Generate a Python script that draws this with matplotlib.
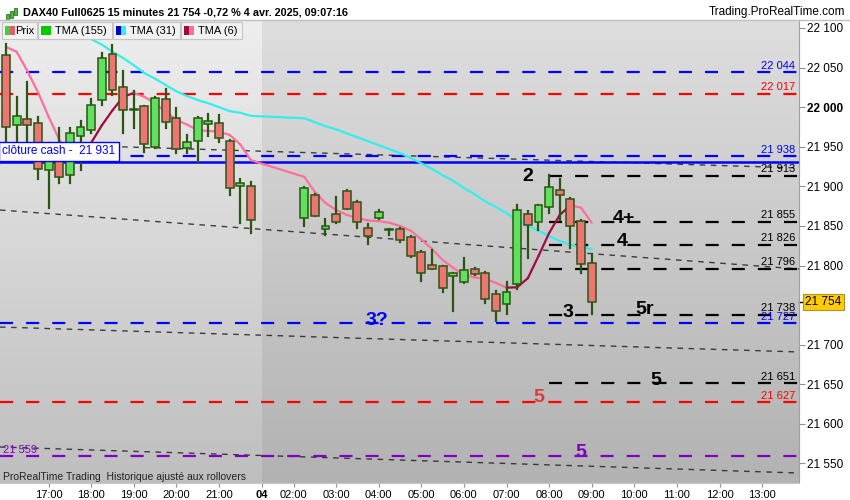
import numpy as np
import matplotlib.pyplot as plt
from matplotlib.patches import Rectangle

plt.rcParams['font.family'] = ['Liberation Sans', 'DejaVu Sans']
plt.rcParams['lines.scale_dashes'] = False

# candle slots (15 min), 0 = 16:00 on the 3rd, 28 = 02:15 on the 4th
slots = list(range(0, 24)) + list(range(28, 56))
opens = [22066, 21978, 21985, 21980, 21921, 21948, 21914, 21963, 21971, 22009, 22067, 22025,
         21998, 22001, 21950, 22010, 21986, 21949, 21957, 21979, 21980, 21957, 21900, 21901,
         21860, 21889, 21846, 21865, 21894, 21880, 21847, 21860, 21845.5, 21846, 21836, 21817,
         21801, 21799, 21787, 21779, 21796, 21791, 21764, 21751, 21777, 21865, 21855, 21874,
         21895, 21884, 21856, 21803]
highs = [22080, 22013, 22032, 21987, 21955, 21974, 21974, 21983, 22010, 22068, 22079, 22046,
         22020, 22001, 22013, 22023, 21999, 21965, 21988, 21991, 21990, 21958, 21909, 21905,
         21899, 21890, 21859, 21886, 21895, 21881, 21853, 21870, 21846, 21847, 21837, 21818,
         21820, 21800, 21791, 21810, 21797, 21792, 21768, 21779, 21876, 21869, 21877, 21914,
         21909, 21885, 21857, 21815]
lows = [21955, 21952, 21946, 21909, 21873, 21904, 21904, 21921, 21967, 22003, 22015, 21968,
        21974, 21944, 21949, 21974, 21942, 21942, 21931, 21964, 21956, 21889, 21854, 21841,
        21850, 21862, 21838, 21854, 21871, 21848, 21827, 21859, 21838, 21830, 21811, 21781,
        21795, 21766, 21743, 21778, 21788, 21753, 21730, 21739, 21770, 21809, 21845, 21866,
        21857, 21822, 21791, 21739]
closes = [21975, 21989, 21977, 21922, 21946, 21912, 21967, 21975, 22003, 22062, 22022, 21996,
          21997, 21954, 22012, 21981, 21947, 21956, 21986, 21983, 21961, 21898, 21904, 21857,
          21898, 21863, 21850, 21855, 21872, 21855, 21837, 21867, 21844.5, 21832, 21812, 21791,
          21796, 21771, 21790, 21794, 21789, 21758, 21743, 21766, 21870, 21851, 21876, 21899,
          21889, 21850, 21802, 21754]

# TMA(31)
cyan_slots = [6, 7, 8, 9, 10, 11, 12, 13, 14, 15, 16, 17, 18, 19, 20, 21, 22, 23,
              28, 29, 30, 31, 32, 33, 34, 35, 36, 37, 38, 39, 40, 41, 42, 43, 44, 45, 46, 47,
              48, 49, 50, 51, 52, 53, 54, 55]
cyan_vals = [22100, 22092, 22086, 22079, 22070, 22062, 22053, 22043, 22036, 22028, 22020, 22014,
             22009, 22005, 22000, 21995, 21993, 21989,
             21986, 21981, 21976, 21972, 21967, 21962, 21957, 21952, 21947, 21942, 21936, 21929,
             21922, 21914, 21907, 21898, 21890, 21881, 21874, 21866, 21857, 21850, 21844, 21837,
             21831, 21826, 21823, 21821]
# TMA(6), one value per candle
pink_vals = [22076, 22070, 22046, 22019, 21988, 21959, 21940, 21942, 21955, 21977, 21996, 22013,
             22018, 22013, 22005, 21994, 21984, 21978, 21971, 21970, 21969, 21965, 21953, 21933,
             21912, 21893, 21879, 21870, 21864, 21860, 21857, 21856, 21854, 21850, 21844, 21833,
             21821, 21807, 21797, 21788, 21785, 21783, 21778, 21772, 21772.5, 21784, 21812, 21841,
             21864, 21876, 21873, 21854]

# horizontal levels
full_levels = [22044, 22017, 21938, 21727, 21627, 21559]
full_colors = ['#0000ff', '#ff0000', '#0000ff', '#0000ff', '#ff0000', '#8000c0']
black_levels = [21913, 21855, 21826, 21796, 21738, 21651]
black_start = 51
cash_close = 21931
last_price = 21754

# dotted trend lines (value at left edge, value at right edge)
trend_left = [21954.7, 21870.1, 21722.3, 21570.8]
trend_right = [21923.2, 21795.6, 21690.8, 21537.9]

# wave labels
wave_text = ['2', '4+', '4', '3', '5r', '5', '5', '5', '3?']
wave_x = [49, 58, 57.9, 52.8, 60, 61, 50, 54, 34.8]
wave_y = [21913, 21860, 21830, 21741, 21745, 21655, 21633, 21564, 21731]
wave_col = ['black', 'black', 'black', 'black', 'black', 'black', '#e03838', '#8000c0', '#0000ff']

yticks = [21550, 21600, 21650, 21700, 21800, 21850, 21900, 21950, 22000, 22050, 22100]
xtick_pos = [4, 8, 12, 16, 20, 24, 27, 31, 35, 39, 43, 47, 51, 55, 59, 63, 67, 71]
xtick_lab = ['17:00', '18:00', '19:00', '20:00', '21:00', '04', '02:00', '03:00', '04:00',
             '05:00', '06:00', '07:00', '08:00', '09:00', '10:00', '11:00', '12:00', '13:00']

W, H = 850, 500
fig = plt.figure(figsize=(8.5, 5), dpi=100)
fig.patch.set_facecolor('white')
ax = fig.add_axes([0, 17 / H, 799 / W, 463 / H])
xmin, xmax = -0.56, 74.46
ymin, ymax = 21525.3, 22110.1
ax.set_xlim(xmin, xmax)
ax.set_ylim(ymin, ymax)

# background gradients (previous day lighter)
grad = np.linspace(0, 1, 256).reshape(-1, 1)
def gradient(top, bot):
    top = np.array(top) / 255.
    bot = np.array(bot) / 255.
    return top + (bot - top) * grad[:, :, None] * np.ones((1, 1, 3))
ax.imshow(gradient([238, 238, 238], [190, 190, 190]), extent=[xmin, 24, ymin, ymax],
          aspect='auto', zorder=0, origin='upper')
ax.imshow(gradient([222, 222, 222], [178, 178, 178]), extent=[24, xmax, ymin, ymax],
          aspect='auto', zorder=0, origin='upper')

# dotted trend lines
for l, r in zip(trend_left, trend_right):
    ax.plot([xmin, xmax], [l, r], color='#222222', lw=1, ls=(0, (4, 4)), alpha=0.85, zorder=2)

# horizontal levels
for lv, c in zip(full_levels, full_colors):
    ax.plot([xmin, xmax], [lv, lv], color=c, lw=1.6, ls=(0, (9.4, 9.4)), zorder=2)
for lv in black_levels:
    ax.plot([black_start, xmax], [lv, lv], color='black', lw=1.6, ls=(0, (9.4, 9.4)), zorder=2)
ax.axhline(cash_close, color='#0000ff', lw=1.8, zorder=2)

# level labels on the right
for lv, c in zip(full_levels[:-1], full_colors[:-1]):
    ax.text(74.1, lv + 2, '{:,}'.format(lv).replace(',', ' '), color=c, fontsize=8,
            ha='right', va='bottom', zorder=5)
for lv in black_levels:
    ax.text(74.1, lv + 2, '{:,}'.format(lv).replace(',', ' '), color='black', fontsize=8,
            ha='right', va='bottom', zorder=5)
ax.text(-0.3, full_levels[-1] + 2, '{:,}'.format(full_levels[-1]).replace(',', ' '),
        color=full_colors[-1], fontsize=8, ha='left', va='bottom', zorder=5)

# moving averages
ax.plot(cyan_slots, cyan_vals, color='#33eeee', lw=1.6, zorder=3)
for i in range(len(slots) - 1):
    col = '#a00a3c' if pink_vals[i + 1] > pink_vals[i] else '#ff6f9c'
    ax.plot(slots[i:i + 2], pink_vals[i:i + 2], color=col, lw=1.6, zorder=3,
            solid_capstyle='round')

# candles
edge = '#2b5512'
for s, o, h, l, c in zip(slots, opens, highs, lows, closes):
    ax.plot([s, s], [l, h], color=edge, lw=1.6, zorder=4)
    fc = '#5fe05f' if c >= o else '#ef7474'
    lo = min(o, c)
    ht = max(abs(c - o), 1.2)
    ax.add_patch(Rectangle((s - 0.37, lo), 0.74, ht, fc=fc, ec=edge, lw=1.1, zorder=4))

# wave labels
for t, x, y, c in zip(wave_text, wave_x, wave_y, wave_col):
    ax.text(x, y, t, color=c, fontsize=14, fontweight='bold', ha='center', va='center', zorder=6)

# cash close box
ax.text(-0.35, cash_close + 13.5, 'clôture cash -  21 931', color='#0000ff', fontsize=8.5,
        ha='left', va='center', zorder=7,
        bbox=dict(boxstyle='square,pad=0.3', fc='white', ec='#0000ff', lw=1))

ax.text(-0.3, 21533, 'ProRealTime Trading  Historique ajusté aux rollovers', fontsize=7.5,
        color='#222222', ha='left', va='center', zorder=6)

# axes styling
for sp in ['left', 'top']:
    ax.spines[sp].set_visible(False)
ax.spines['right'].set_color('#a0a0a0')
ax.spines['bottom'].set_color('#c8c8c8')
ax.yaxis.tick_right()
ax.set_yticks(yticks)
ax.set_yticklabels(['{:,}'.format(v).replace(',', ' ') for v in yticks])
for lab, v in zip(ax.get_yticklabels(), yticks):
    if v == 22000:
        lab.set_fontweight('bold')
ax.tick_params(axis='y', direction='out', length=4, color='#909090', labelsize=8.5, pad=2)
ax.set_xticks(xtick_pos)
ax.set_xticklabels(xtick_lab)
for lab, t in zip(ax.get_xticklabels(), xtick_lab):
    if t == '04':
        lab.set_fontweight('bold')
        lab.set_fontsize(9.5)
ax.tick_params(axis='x', direction='out', length=3, color='#909090', labelsize=8, pad=2)

# last price box
ax.plot([1.0, 1.006], [last_price, last_price], color='black', lw=1,
        transform=ax.get_yaxis_transform(), clip_on=False)
ax.text(1.008, last_price, '21 754', transform=ax.get_yaxis_transform(), fontsize=8.5,
        ha='left', va='center', zorder=8,
        bbox=dict(boxstyle='square,pad=0.2', fc='#ffcc00', ec='#b09030', lw=0.8))

# header bar
fig.patches.append(Rectangle((0, 1 - 20 / H), 1, 20 / H, transform=fig.transFigure,
                             fc='white', ec='none', zorder=1))
fig.add_artist(plt.Line2D([0, 1], [1 - 20 / H, 1 - 20 / H], transform=fig.transFigure,
                          color='#c0c0c0', lw=1))
fig.text(23 / W, 1 - 12.5 / H, 'DAX40 Full0625 15 minutes 21 754 -0,72 % 4 avr. 2025, 09:07:16',
         fontsize=7.8, fontweight='bold', ha='left', va='center')
fig.text(845 / W, 1 - 12 / H, 'Trading.ProRealTime.com', fontsize=8.5, ha='right', va='center')
# small candle icon
for px, py, hh, col in [(6, 14, 6, '#40c040'), (10, 11, 7, '#40c040'), (14, 8, 7, '#40c040')]:
    fig.patches.append(Rectangle((px / W, 1 - (py + hh) / H), 2.5 / W, hh / H,
                                 transform=fig.transFigure, fc=col, ec='#2b5512', lw=0.5))

# legend tabs
tabs = [(2, 37, 'Prix', ['#44cc44', '#e06060'], 15),
        (38, 112, 'TMA (155)', ['#00cc00', '#00cc00'], 55),
        (113, 180, 'TMA (31)', ['#0000cc', '#33eeee'], 130),
        (181, 242, 'TMA (6)', ['#a00a3c', '#ff6f9c'], 198)]
for x0, x1, txt, cols, tx in tabs:
    fig.patches.append(Rectangle((x0 / W, 1 - 39 / H), (x1 - x0) / W, 17 / H,
                                 transform=fig.transFigure, fc='#f2f2f2', ec='#c4c4c4', lw=0.8,
                                 zorder=10))
    fig.patches.append(Rectangle(((x0 + 3) / W, 1 - 35 / H), 5 / W, 9 / H,
                                 transform=fig.transFigure, fc=cols[0], ec='none', zorder=11))
    fig.patches.append(Rectangle(((x0 + 8) / W, 1 - 35 / H), 5 / W, 9 / H,
                                 transform=fig.transFigure, fc=cols[1], ec='none', zorder=11))
    fig.text(tx / W, 1 - 30.5 / H, txt, fontsize=8, ha='left', va='center', zorder=12)

fig.savefig('out.png', dpi=100)
